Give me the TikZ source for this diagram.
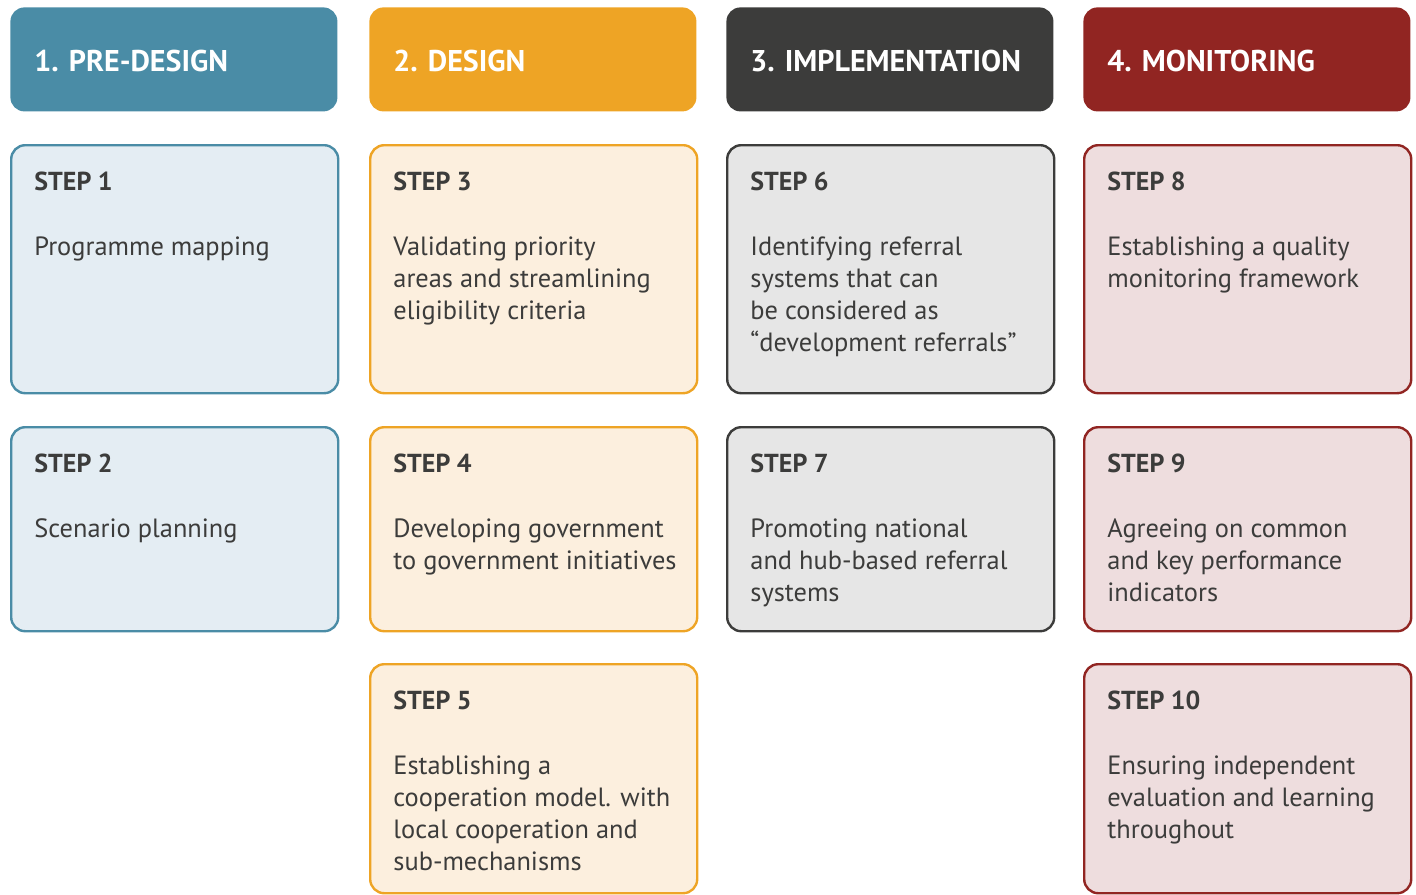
\documentclass[tikz,border=0pt]{standalone}
\usepackage{fontspec}
\setmainfont{PT Sans}

\definecolor{predesign}{HTML}{4A8CA6}
\definecolor{design}{HTML}{EEA425}
\definecolor{implement}{HTML}{3C3C3B}
\definecolor{monitor}{HTML}{912522}
\definecolor{predesignbg}{HTML}{E4EDF3}
\definecolor{designbg}{HTML}{FCEFDE}
\definecolor{implementbg}{HTML}{E6E6E6}
\definecolor{monitorbg}{HTML}{EEDDDE}
\definecolor{textgray}{HTML}{3C3C3B}

\tikzset{
  phasebox/.style={fill=#1, rounded corners=7pt, anchor=north west,
    minimum width=163.5pt, minimum height=52pt, inner sep=0pt},
  stepbox/.style 2 args={draw=#1, fill=#2, line width=1.2pt, rounded corners=7pt,
    anchor=north west, minimum width=163.5pt, inner sep=0pt},
  phasetext/.style={text=white, font=\fontsize{15}{18}\selectfont\bfseries,
    anchor=base west, inner sep=0pt},
  steptitle/.style={text=textgray, font=\fontsize{13}{16}\selectfont\bfseries,
    anchor=base west, inner sep=0pt},
  % base = baseline of the last line, so shift by 32 per extra line
  steptext/.style={text=textgray, font=\fontsize{13.2}{16}\selectfont,
    anchor=base west, inner sep=0pt, align=left},
}

\begin{document}
\begin{tikzpicture}[x=0.5pt, y=-0.5pt]
\useasboundingbox (0,0) rectangle (1416,894);

% phase headers
\node[phasebox=predesign] (h1) at (10,7) {};
\node[phasebox=design] (h2) at (369,7) {};
\node[phasebox=implement] (h3) at (726,7) {};
\node[phasebox=monitor] (h4) at (1083,7) {};
\node[phasetext] (h1t) at ([shift={(24,64)}]h1.north west) {1. PRE-DESIGN};
\node[phasetext] (h2t) at ([shift={(24,64)}]h2.north west) {2. DESIGN};
\node[phasetext] (h3t) at ([shift={(24,64)}]h3.north west) {3. IMPLEMENTATION};
\node[phasetext] (h4t) at ([shift={(24,64)}]h4.north west) {4. MONITORING};

% step boxes
\node[stepbox={predesign}{predesignbg}, minimum height=124pt] (s1) at (10,144) {};
\node[stepbox={predesign}{predesignbg}, minimum height=102pt] (s2) at (10,426) {};
\node[stepbox={design}{designbg}, minimum height=124pt] (s3) at (369,144) {};
\node[stepbox={design}{designbg}, minimum height=102pt] (s4) at (369,426) {};
\node[stepbox={design}{designbg}, minimum height=114.5pt] (s5) at (369,663) {};
\node[stepbox={implement}{implementbg}, minimum height=124pt] (s6) at (726,144) {};
\node[stepbox={implement}{implementbg}, minimum height=102pt] (s7) at (726,426) {};
\node[stepbox={monitor}{monitorbg}, minimum height=124pt] (s8) at (1083,144) {};
\node[stepbox={monitor}{monitorbg}, minimum height=102pt] (s9) at (1083,426) {};
\node[stepbox={monitor}{monitorbg}, minimum height=114.5pt] (s10) at (1083,663) {};

% step titles
\foreach \s/\n in {s1/1, s2/2, s3/3, s4/4, s5/5, s6/6, s7/7, s8/8, s9/9, s10/10}
  \node[steptitle] (\s t) at ([shift={(24,46)}]\s.north west) {STEP \n};

% step texts
\node[steptext] (s1d) at ([shift={(24,111)}]s1.north west) {Programme mapping};
\node[steptext] (s2d) at ([shift={(24,111)}]s2.north west) {Scenario planning};
\node[steptext] (s3d) at ([shift={(24,175)}]s3.north west) {Validating priority\\areas and streamlining\\eligibility criteria};
\node[steptext] (s4d) at ([shift={(24,143)}]s4.north west) {Developing government\\to government initiatives};
\node[steptext] (s5d) at ([shift={(24,207)}]s5.north west) {Establishing a\\cooperation model. with\\local cooperation and\\sub-mechanisms};
\node[steptext] (s6d) at ([shift={(24,207)}]s6.north west) {Identifying referral\\systems that can\\be considered as\\“development referrals”};
\node[steptext] (s7d) at ([shift={(24,175)}]s7.north west) {Promoting national\\and hub-based referral\\systems};
\node[steptext] (s8d) at ([shift={(24,143)}]s8.north west) {Establishing a quality\\monitoring framework};
\node[steptext] (s9d) at ([shift={(24,175)}]s9.north west) {Agreeing on common\\and key performance\\indicators};
\node[steptext] (s10d) at ([shift={(24,175)}]s10.north west) {Ensuring independent\\evaluation and learning\\throughout};
\end{tikzpicture}
\end{document}
